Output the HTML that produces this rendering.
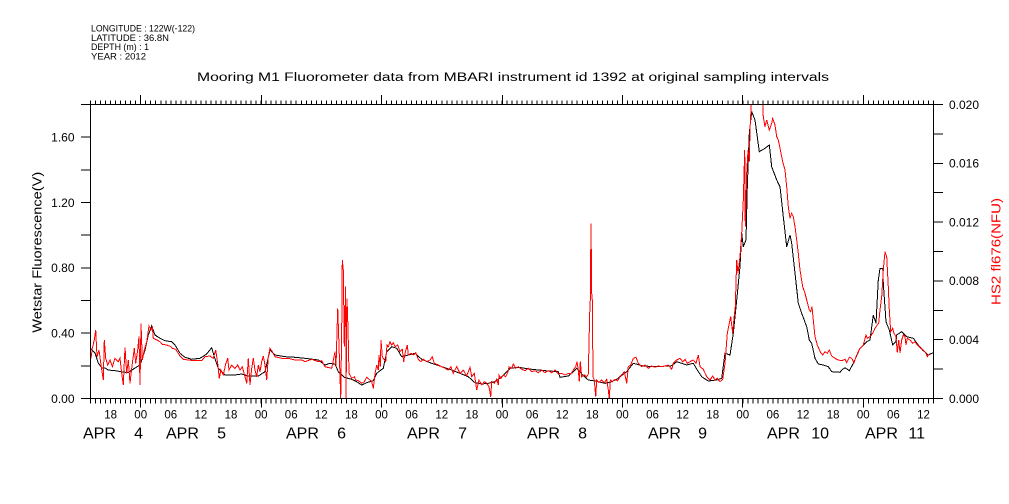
<!DOCTYPE html>
<html>
<head>
<meta charset="utf-8">
<style>
  html,body{margin:0;padding:0;background:#fff;}
  svg{display:block;}
  text{font-family:"Liberation Sans",sans-serif;}
</style>
</head>
<body>
<svg width="1009" height="504" viewBox="0 0 1009 504" xmlns="http://www.w3.org/2000/svg">
<rect x="0" y="0" width="1009" height="504" fill="#fff"/>
<defs>
  <clipPath id="plot"><rect x="90.5" y="104.5" width="843" height="294"/></clipPath>
</defs>

<!-- header -->
<g font-size="9" fill="#000">
  <text x="91" y="31.7" textLength="104" lengthAdjust="spacingAndGlyphs">LONGITUDE : 122W(-122)</text>
  <text x="91" y="41" textLength="78" lengthAdjust="spacingAndGlyphs">LATITUDE : 36.8N</text>
  <text x="91" y="50" textLength="58" lengthAdjust="spacingAndGlyphs">DEPTH (m) : 1</text>
  <text x="91" y="59.3" textLength="55" lengthAdjust="spacingAndGlyphs">YEAR : 2012</text>
</g>

<!-- title -->
<text x="197" y="81" font-size="11.5" textLength="632" lengthAdjust="spacingAndGlyphs" fill="#000">Mooring M1 Fluorometer data from MBARI instrument id 1392 at original sampling intervals</text>

<!-- data -->
<g clip-path="url(#plot)" fill="none" stroke-width="1" shape-rendering="crispEdges">
<polyline stroke="#000" points="91,349 95,353 98.3,363 102,368 105,368 108.3,370 115,370.7 121.7,371.7 128,372.7 135,368 140,365 145,350 148.3,335 151.7,326 155,335 160,338.3 165,340.7 171.7,341.7 175,345 180,353.3 185,357.3 191.7,359.3 200,358.3 206.7,354 211.7,347.7 214.3,356.7 218.3,368.3 225,375 235,375 241.7,374 248.3,376 258.3,376 265,371.7 270,350 275,355 285,356.7 295,357.3 305,358.3 318.3,360 325,365 330,363.3 335,364 338.3,371.7 344.3,377.3 351.7,379.3 356.7,381.7 361.7,385 366.7,382.7 373.3,380.7 376.7,373.3 383.3,368.3 386.7,351.7 391.7,346.7 396.7,348.3 401.7,356.7 408.3,355 415,353.3 421.7,359.3 431.7,363.3 441.7,366.7 451.7,370 461.7,374 468.3,376.7 475,382.7 481.7,384 488.3,383.3 495,381.7 501.7,376.7 510,368.3 518.3,367.3 531.7,369.3 545,370.7 558.3,371.7 560,377.3 568.3,376 573.3,371.7 576.7,368.3 581.7,374 588.3,380 595,381 605,383.3 611.7,381.7 618.3,378.3 620,376.7 626.7,371.7 633.3,363.3 643.3,366 656.7,366.7 671.7,365.7 676.7,361.7 681.7,363.3 686.7,365 693.3,363.3 697.3,370 701.7,376.7 708.3,381 716.7,380 721.7,378.3 725,353.3 730,355 733.3,333.3 736.7,300 740,266.7 741.7,233.3 743.3,246.7 746,240 747.3,186.7 749.3,133.3 751.7,111.7 755,120 759.3,151.7 765,148.3 769.3,145 771.7,166.7 776.7,180 780,186.7 783.3,216.7 786.7,246.7 790,235 791.7,243.3 795,273.3 798.3,303.3 801.7,313.3 806.7,326.7 809.3,340 811.7,343.3 815,358.3 818.3,364 823.3,365 828.3,366.7 831.7,371.7 840,372.3 841.7,370 845,367.7 849.3,370.7 853.3,363.3 860,348.3 866.7,341.7 870,340 873.3,315 876,323.3 878.3,280 880,268.3 882.7,268.3 883.3,283.3 886,321.7 889.3,330 892.7,345 896,341.7 896.7,335 901.7,331.7 906.7,336.7 913.3,338.3 918.3,345 923.3,350.7 928.3,355 933,352.7"/>
<polyline stroke="#f00" points="91,358.3 92.3,348.3 94.3,340 95.7,330 97,356.7 99,350 101,365 103.3,380 104.3,340 105.7,358.3 107.7,365 110,360 112.3,366.7 115,358.3 118.3,361.7 120,358.3 121.7,373.3 123.3,385 125,347.3 126.7,373.3 128.3,360 130,383.3 131.7,368.3 134.3,348.3 135.7,363.3 137.7,350 139,336.7 140,385 141,323.3 142.3,360 144.3,350 146.7,341.7 149,326 151,330 152.3,326.7 153.3,338.3 156.7,340 160,341.7 162.3,344.3 166.7,345 171,346.7 172.3,348.3 175.7,349.3 180,356 183.3,359.3 188.3,360 195,360.7 201.7,360.7 205,356.7 210,356 213.3,358.3 215.7,350 217.7,363.3 219.3,378.3 221,370 223.3,375 225.7,364 227.7,358.3 229,370 231.7,365 235,368.3 237.7,365 240,370 242.3,366.7 245,376.7 246.7,383.3 248.3,358.3 250,385 251.7,368.3 253.3,358.3 255,370 256.7,376.7 258.3,365 260,371.7 261.7,361.7 263.3,356 265,365 266.7,380 268.3,356.7 270,348.3 272.3,351.7 275,356.7 281.7,358.3 288.3,358.3 295,360 301.7,360 305,361.7 311.7,359.3 318.3,361.7 321.7,360.7 325,366.7 331.7,368.3 335,351.7 336,366.7 337.7,308.3 338.7,336.7 339.7,366.7 340.7,398.3 341.7,330 342.3,260 343.3,270 344.3,346.7 345.7,286.7 346,398.3 347,298.3 348,328.3 349,373.3 351.7,378.3 354.3,376.7 355.7,380 358.3,380.7 361.7,383.3 364.3,381.7 366.7,377.3 369,379.3 371.7,381.7 373.3,388.3 375,374 376.7,365 378.3,370 379,355 380.3,366.7 381,340 382.3,356.7 384.3,360 385.7,361.7 387,345 388.3,346.7 390,341.7 391.7,345 393.3,342.7 395,346.7 397.7,345 400,351.7 402.3,349.3 403.7,361.7 405,353.3 407.3,345 408.3,355 411,353.3 413.3,355 415.7,352.7 418.3,359.3 421,361.7 423.3,359.3 426.7,361.7 430,360 432.3,356.7 434.3,363.3 438.3,365 441.7,366.7 445,368.3 448.3,370 451,366.7 453.3,373.3 456.7,366.7 460,373.3 463.3,370 466.7,376 470,367.3 471.7,376.7 474.3,373.3 476.7,390 479,380 481.7,385 484.3,381.7 486.7,383.3 489,386.7 490.7,396.7 491.7,381.7 494.3,383.3 496.7,379.3 498.3,385 499,375 501,378.3 503.3,375 505.7,376.7 507.7,372.7 509,366.7 511.7,368.3 513.3,364 515.7,368.3 518.3,366.7 521.7,369.3 525,370.7 528.3,368.3 531.7,371.7 535,370.7 538.3,372.7 541.7,370 545,372.7 548.3,370.7 551.7,372.7 555,370 558.3,374 561.7,373.3 565,375 568.3,373.3 571,374 573.3,370 575.7,366.7 577,361.7 578.3,370 579.3,381.7 580.3,361.7 581.7,376.7 584.3,375 586.7,376.7 588.3,374 589.7,313.3 590.3,300 591,223.3 591.7,293.3 592.3,300 593,376.7 594.3,380 595.7,396.7 596.7,380 599,382.7 601.7,380 604.3,382.7 606.7,379.3 608.3,390 609.3,398.3 610.3,380 612.3,381.7 615,379.3 617.7,380.7 620,376.7 621.7,375 624.3,371.7 626.7,383.3 628.3,366.7 630.7,365 633.3,358.3 636,357.3 638.3,363.3 641.7,366.7 645,365 648.3,368.3 651.7,366 655,367.3 658.3,366 661.7,366.7 665,366 668.3,365 671.7,369.3 673.3,363.3 676.7,360 680,358.3 682.7,361.7 685,359.3 687.3,363.3 690,361.7 693.3,360 696,363.3 698.3,355 700,366.7 703.3,369.3 706.7,376.7 710,380 712.7,376 715,380 717.3,378.3 720,381.7 722.7,379.3 725,363.3 727.3,333.3 729.3,323.3 730.7,316.7 732.7,333.3 734,318.3 735.3,306.7 736.7,260 738,273.3 740,256.7 741.7,233.3 743.3,200 744.7,150 745.3,226.7 746.7,173.3 748,150 749.3,161.7 750,130 751.3,103 753,90 760,85 762.7,103.3 763.3,116.7 765,126.7 766.7,120 769.3,130 771.7,123.3 772.7,118.3 775,125 776.7,136.7 778.3,140 780,148.3 782.7,161.7 785,170 786.7,186.7 788.3,206.7 790,218.3 791.7,213.3 793.3,216.7 795,226.7 796.7,240 798.3,253.3 800,270 802.7,286.7 805,293.3 806.7,300 809.3,310 810.7,311.7 812,306.7 813.3,320 815,336.7 817.3,345 820.7,352.7 822.7,355 825,351.7 827.3,353.3 829.3,350 831.7,356 835,358.3 838.3,360 841.7,360.7 845,359.3 846.7,362.7 849.3,357.3 851.7,358.3 854,362.7 856.7,355 860,348.3 863.3,345 866,335 867.3,338.3 870,336.7 872.7,333.3 875,328.3 877.3,325 878.7,323.3 880,310 881.7,296.7 883.3,270 885,251.7 886.7,256.7 888.3,286.7 889.3,310 890.7,331.7 892.7,328.3 894,333.3 896,336.7 897.3,352.7 898.7,340 900,352.7 901.7,340 903.3,335 905,336.7 906,345 907.3,338.3 910,340 912.7,343.3 915,341.7 917.3,345 920.7,348.3 923.3,350 926,353.3 927.3,356.7 929.3,354"/>
</g>

<!-- axes frame -->
<g stroke="#000" stroke-width="1" fill="none" shape-rendering="crispEdges">
  <rect x="90.5" y="104.5" width="843" height="294"/>
  <!-- left ticks -->
  <path d="M81 398.5H90.5M81 365.83H90.5M81 333.17H90.5M81 300.5H90.5M81 267.83H90.5M81 235.17H90.5M81 202.5H90.5M81 169.83H90.5M81 137.17H90.5M81 104.5H90.5"/>
  <!-- right ticks -->
  <path d="M933.5 398.5H943M933.5 369.1H943M933.5 339.7H943M933.5 310.3H943M933.5 280.9H943M933.5 251.5H943M933.5 222.1H943M933.5 192.7H943M933.5 163.3H943M933.5 133.9H943M933.5 104.5H943"/>
  <!-- major day ticks top & bottom -->
  <path d="M140.5 95V104.5M261.5 95V104.5M381.5 95V104.5M502.5 95V104.5M622.5 95V104.5M742.5 95V104.5M863.5 95V104.5
           M140.5 398.5V407.5M261.5 398.5V407.5M381.5 398.5V407.5M502.5 398.5V407.5M622.5 398.5V407.5M742.5 398.5V407.5M863.5 398.5V407.5"/>
</g>
<!-- minor hourly ticks via dash arrays -->
<line x1="90" y1="102.5" x2="935" y2="102.5" stroke="#000" stroke-width="4" stroke-dasharray="1 4.017857" shape-rendering="crispEdges"/>
<line x1="90" y1="401" x2="935" y2="401" stroke="#000" stroke-width="5" stroke-dasharray="1 4.017857" shape-rendering="crispEdges"/>

<!-- left tick labels -->
<g font-size="12" fill="#000" text-anchor="end">
  <text x="74.5" y="402.8">0.00</text>
  <text x="74.5" y="337.5">0.40</text>
  <text x="74.5" y="272.1">0.80</text>
  <text x="74.5" y="206.8">1.20</text>
  <text x="74.5" y="141.5">1.60</text>
</g>
<!-- right tick labels -->
<g font-size="12" fill="#000">
  <text x="949" y="402.8">0.000</text>
  <text x="949" y="344">0.004</text>
  <text x="949" y="285.2">0.008</text>
  <text x="949" y="226.4">0.012</text>
  <text x="949" y="167.6">0.016</text>
  <text x="949" y="108.8">0.020</text>
</g>

<!-- axis titles -->
<text transform="translate(41.7,252.3) rotate(-90)" font-size="12.5" text-anchor="middle" textLength="161" lengthAdjust="spacingAndGlyphs" fill="#000">Wetstar Fluorescence(V)</text>
<text transform="translate(1000.5,251.5) rotate(-90)" font-size="12.5" text-anchor="middle" textLength="107" lengthAdjust="spacingAndGlyphs" fill="#f00">HS2 fl676(NFU)</text>

<!-- hour labels -->
<g font-size="11.5" fill="#000" text-anchor="middle">
  <text x="110.6" y="418.3">18</text>
  <text x="140.7" y="418.3">00</text>
  <text x="170.8" y="418.3">06</text>
  <text x="200.9" y="418.3">12</text>
  <text x="231.0" y="418.3">18</text>
  <text x="261.1" y="418.3">00</text>
  <text x="291.2" y="418.3">06</text>
  <text x="321.3" y="418.3">12</text>
  <text x="351.4" y="418.3">18</text>
  <text x="381.5" y="418.3">00</text>
  <text x="411.6" y="418.3">06</text>
  <text x="441.8" y="418.3">12</text>
  <text x="471.9" y="418.3">18</text>
  <text x="502.0" y="418.3">00</text>
  <text x="532.1" y="418.3">06</text>
  <text x="562.2" y="418.3">12</text>
  <text x="592.3" y="418.3">18</text>
  <text x="622.4" y="418.3">00</text>
  <text x="652.5" y="418.3">06</text>
  <text x="682.6" y="418.3">12</text>
  <text x="712.7" y="418.3">18</text>
  <text x="742.8" y="418.3">00</text>
  <text x="772.9" y="418.3">06</text>
  <text x="803.0" y="418.3">12</text>
  <text x="833.1" y="418.3">18</text>
  <text x="863.3" y="418.3">00</text>
  <text x="893.4" y="418.3">06</text>
  <text x="923.5" y="418.3">12</text>
</g>

<!-- day labels -->
<g font-size="16" fill="#000">
  <text x="83" y="438.3">APR</text><text x="143" y="438.3" text-anchor="end">4</text>
  <text x="166" y="438.3">APR</text><text x="226" y="438.3" text-anchor="end">5</text>
  <text x="286" y="438.3">APR</text><text x="346" y="438.3" text-anchor="end">6</text>
  <text x="407" y="438.3">APR</text><text x="467" y="438.3" text-anchor="end">7</text>
  <text x="527" y="438.3">APR</text><text x="587" y="438.3" text-anchor="end">8</text>
  <text x="648" y="438.3">APR</text><text x="707" y="438.3" text-anchor="end">9</text>
  <text x="767" y="438.3">APR</text><text x="829" y="438.3" text-anchor="end">10</text>
  <text x="865" y="438.3">APR</text><text x="925" y="438.3" text-anchor="end">11</text>
</g>
</svg>
</body>
</html>
